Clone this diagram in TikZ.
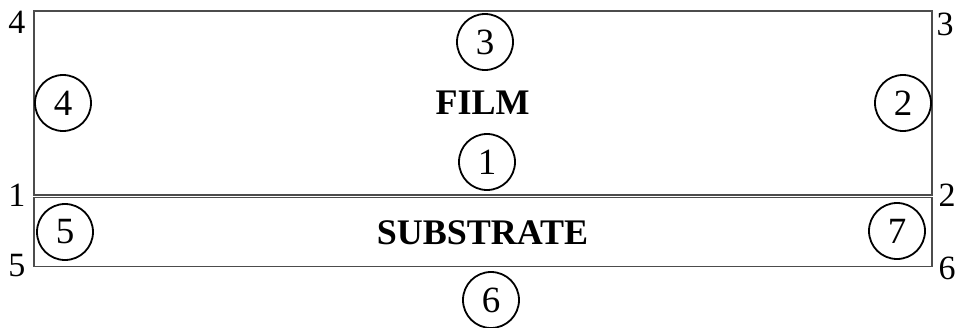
\documentclass[tikz,border=0pt]{standalone}
\usepackage{fontspec}
\setmainfont{Liberation Serif}
\begin{document}
\begin{tikzpicture}[x=1pt,y=-1pt,
  layer/.style={draw=black!70,line width=1.5pt,inner sep=0pt,anchor=north west},
  region/.style={circle,draw=black,line width=1.8pt,minimum size=56pt,inner sep=0pt,
    font=\fontsize{37}{37}\selectfont},
  corner/.style={inner sep=0pt,font=\fontsize{34}{34}\selectfont},
  title/.style={inner sep=0pt,font=\fontsize{36}{36}\selectfont\bfseries}]
\useasboundingbox (0,0) rectangle (956,327);

% film and substrate layers
\node[layer,minimum width=898pt,minimum height=184pt] (film) at (33,10) {};
\node[layer,minimum width=898pt,minimum height=69pt] (substrate) at (33,196.5) {};

\node[title] (filmlabel) at (482.5,103) {FILM};
\node[title] (sublabel) at (482.5,233) {SUBSTRATE};

% numbered boundary segments
\node[region] (b1) at (487,162) {1};
\node[region] (b2) at (903,103) {2};
\node[region] (b3) at (485,42) {3};
\node[region] (b4) at (63,103) {4};
\node[region] (b5) at (65,232) {5};
\node[region] (b6) at (491,300) {6};
\node[region] (b7) at (897,231) {7};

% corner points
\node[corner] (c4) at (17,22.5) {4};
\node[corner] (c3) at (945,24) {3};
\node[corner] (c1) at (17,195) {1};
\node[corner] (c2) at (947,195) {2};
\node[corner] (c5) at (17,266) {5};
\node[corner] (c6) at (947,268) {6};
\end{tikzpicture}
\end{document}
